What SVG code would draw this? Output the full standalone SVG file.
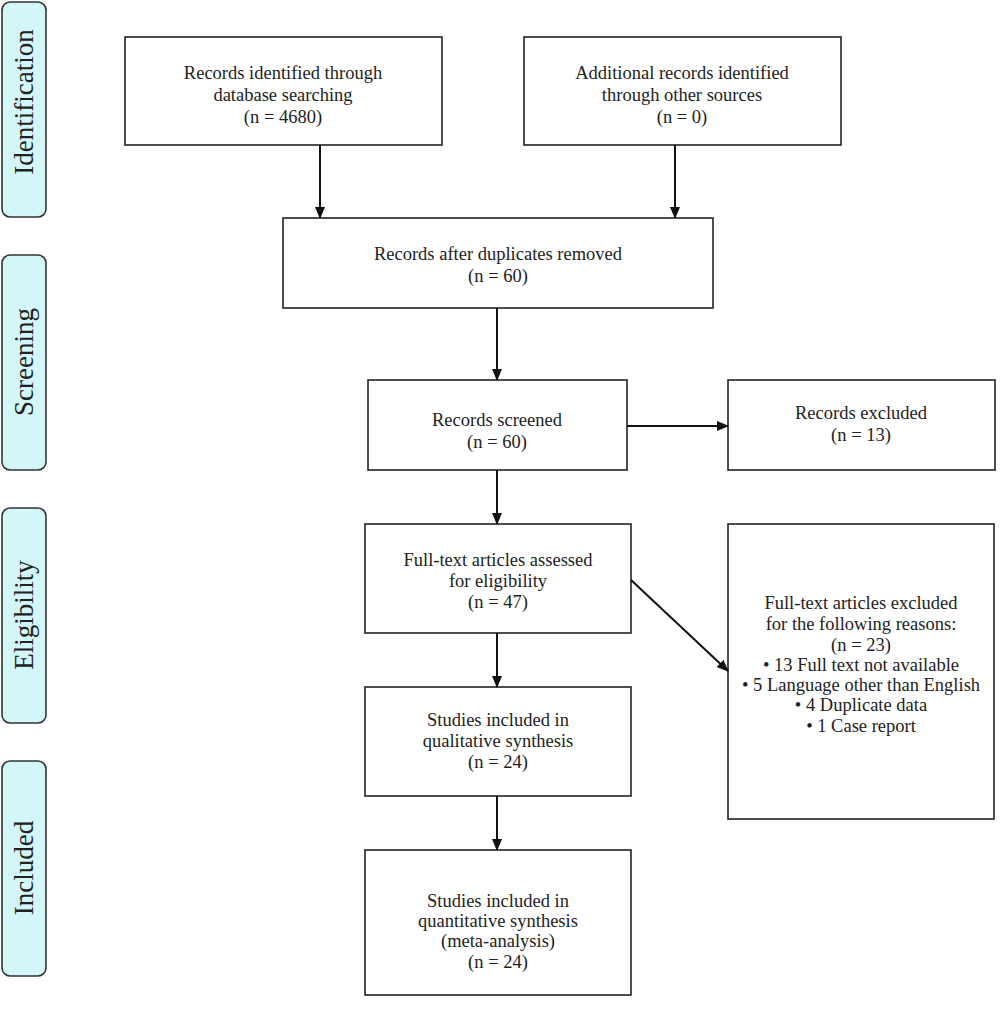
<svg xmlns="http://www.w3.org/2000/svg" width="1000" height="1016" viewBox="0 0 1000 1016">
<style>
.box{fill:#fff;stroke:#222;stroke-width:1.6}
.side{fill:#d3f6f8;stroke:#333;stroke-width:1.6}
.t{font-family:"Liberation Serif","DejaVu Serif",serif;font-size:18.5px;fill:#222;text-anchor:middle}
.s{font-family:"Liberation Serif","DejaVu Serif",serif;font-size:27px;fill:#222;text-anchor:middle}
.c{stroke:#111;stroke-width:2;fill:none;marker-end:url(#ah)}
</style>
<defs>
<marker id="ah" markerWidth="12" markerHeight="12" refX="11" refY="5" orient="auto" markerUnits="userSpaceOnUse">
<path d="M0,0 L12,5 L0,10 Z" fill="#111"/>
</marker>
</defs>
<rect width="1000" height="1016" fill="#fff"/>
<g id="side-identification"><rect class="side" x="2" y="2" width="44" height="215" rx="8"/><text class="s" transform="translate(33,102) rotate(-90)">Identification</text></g>
<g id="side-screening"><rect class="side" x="2" y="255" width="44" height="215" rx="8"/><text class="s" transform="translate(33,362) rotate(-90)">Screening</text></g>
<g id="side-eligibility"><rect class="side" x="2" y="508" width="44" height="215" rx="8"/><text class="s" transform="translate(33,615) rotate(-90)">Eligibility</text></g>
<g id="side-included"><rect class="side" x="2" y="761" width="44" height="215" rx="8"/><text class="s" transform="translate(33,868) rotate(-90)">Included</text></g>

<g id="n1"><rect class="box" x="125" y="37" width="317" height="108"/>
<text class="t" x="283" y="79">Records identified through</text>
<text class="t" x="283" y="101">database searching</text>
<text class="t" x="283" y="123">(n = 4680)</text></g>
<g id="n2"><rect class="box" x="524" y="37" width="317" height="108"/>
<text class="t" x="682" y="79">Additional records identified</text>
<text class="t" x="682" y="101">through other sources</text>
<text class="t" x="682" y="123">(n = 0)</text></g>
<g id="n3"><rect class="box" x="283" y="218" width="430" height="90"/>
<text class="t" x="498" y="260">Records after duplicates removed</text>
<text class="t" x="498" y="282">(n = 60)</text></g>
<g id="n4"><rect class="box" x="368" y="380" width="259" height="90"/>
<text class="t" x="497" y="426">Records screened</text>
<text class="t" x="497" y="448">(n = 60)</text></g>
<g id="n5"><rect class="box" x="728" y="380" width="267" height="90"/>
<text class="t" x="861" y="419">Records excluded</text>
<text class="t" x="861" y="441">(n = 13)</text></g>
<g id="n6"><rect class="box" x="365" y="524" width="266" height="109"/>
<text class="t" x="498" y="566">Full-text articles assessed</text>
<text class="t" x="498" y="587">for eligibility</text>
<text class="t" x="498" y="608">(n = 47)</text></g>
<g id="n7"><rect class="box" x="728" y="524" width="266" height="295"/>
<text class="t" x="861" y="609">Full-text articles excluded</text>
<text class="t" x="861" y="630">for the following reasons:</text>
<text class="t" x="861" y="651">(n = 23)</text>
<text class="t" x="861" y="671">• 13 Full text not available</text>
<text class="t" x="861" y="691">• 5 Language other than English</text>
<text class="t" x="861" y="711">• 4 Duplicate data</text>
<text class="t" x="861" y="732">• 1 Case report</text></g>
<g id="n8"><rect class="box" x="365" y="687" width="266" height="109"/>
<text class="t" x="498" y="726">Studies included in</text>
<text class="t" x="498" y="747">qualitative synthesis</text>
<text class="t" x="498" y="768">(n = 24)</text></g>
<g id="n9"><rect class="box" x="365" y="850" width="266" height="145"/>
<text class="t" x="498" y="907">Studies included in</text>
<text class="t" x="498" y="927">quantitative synthesis</text>
<text class="t" x="498" y="947">(meta-analysis)</text>
<text class="t" x="498" y="968">(n = 24)</text></g>

<g id="connectors">
<line class="c" x1="320" y1="145" x2="320" y2="218"/>
<line class="c" x1="675" y1="145" x2="675" y2="218"/>
<line class="c" x1="497" y1="308" x2="497" y2="380"/>
<line class="c" x1="627" y1="426" x2="728" y2="426"/>
<line class="c" x1="497" y1="470" x2="497" y2="524"/>
<line class="c" x1="631" y1="580" x2="728" y2="671"/>
<line class="c" x1="497" y1="633" x2="497" y2="687"/>
<line class="c" x1="497" y1="796" x2="497" y2="850"/>
</g>
</svg>
